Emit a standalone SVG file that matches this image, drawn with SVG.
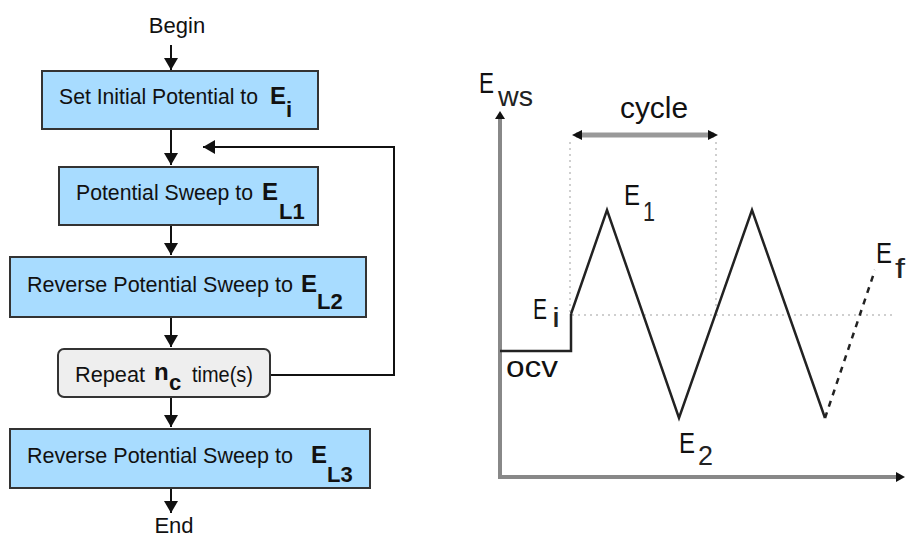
<svg xmlns="http://www.w3.org/2000/svg" width="911" height="540" viewBox="0 0 911 540">
<style>
.box{fill:#a8dcff;stroke:#333;stroke-width:2}
.gbox{fill:#eeeeee;stroke:#333;stroke-width:2}
.t{font-family:"Liberation Sans",Arial,sans-serif;font-size:22px;fill:#111}
.b{font-family:"Liberation Sans",Arial,sans-serif;font-size:24px;font-weight:bold;fill:#111}
.bs{font-family:"Liberation Sans",Arial,sans-serif;font-size:22px;font-weight:bold;fill:#111}
.c{font-family:"Liberation Sans",Arial,sans-serif;font-size:30px;fill:#111}
.cs{font-family:"Liberation Sans",Arial,sans-serif;font-size:28px;fill:#222}
.fl{fill:none;stroke:#111;stroke-width:2}
.wave{fill:none;stroke:#222;stroke-width:2.5}
.dot{fill:none;stroke:#cfcfcf;stroke-width:2;stroke-dasharray:2,4}
.axis{fill:none;stroke:#888;stroke-width:4}
</style>
<defs>
<marker id="ah" markerUnits="userSpaceOnUse" markerWidth="14" markerHeight="16" refX="12" refY="7" orient="auto">
<path d="M0,0 L12,7 L0,14 z" fill="#111"/>
</marker>
</defs>

<g id="connectors">
<line class="fl" x1="171" y1="45" x2="171" y2="70" marker-end="url(#ah)"/>
<line class="fl" x1="171" y1="129" x2="171" y2="165" marker-end="url(#ah)"/>
<line class="fl" x1="171" y1="225" x2="171" y2="255" marker-end="url(#ah)"/>
<line class="fl" x1="171" y1="317" x2="171" y2="347" marker-end="url(#ah)"/>
<line class="fl" x1="171" y1="397" x2="171" y2="427" marker-end="url(#ah)"/>
<line class="fl" x1="171" y1="488" x2="171" y2="513" marker-end="url(#ah)"/>
<path class="fl" d="M270,375 H394 V147 H203" marker-end="url(#ah)"/>
</g>

<g id="begin"><text class="t" x="177" y="33" text-anchor="middle">Begin</text></g>
<g id="end"><text class="t" x="174" y="533" text-anchor="middle">End</text></g>

<g id="set-initial">
<rect class="box" x="42" y="71" width="276" height="58"/>
<text class="t" x="59" y="104" textLength="199" lengthAdjust="spacingAndGlyphs">Set Initial Potential to</text>
<text class="b" x="270" y="104">E</text>
<text class="bs" x="286" y="117">i</text>
</g>

<g id="sweep1">
<rect class="box" x="59" y="167" width="259" height="58"/>
<text class="t" x="76" y="200" textLength="177" lengthAdjust="spacingAndGlyphs">Potential Sweep to</text>
<text class="b" x="262" y="200">E</text>
<text class="bs" x="279" y="219">L<tspan>1</tspan></text>
</g>

<g id="sweep2">
<rect class="box" x="10" y="257" width="356" height="60"/>
<text class="t" x="27" y="292" textLength="266" lengthAdjust="spacingAndGlyphs">Reverse Potential Sweep to</text>
<text class="b" x="301" y="292">E</text>
<text class="bs" x="317" y="309">L<tspan>2</tspan></text>
</g>

<g id="repeat">
<rect class="gbox" x="58" y="349" width="212" height="48" rx="6"/>
<text class="t" x="75" y="382" textLength="70" lengthAdjust="spacingAndGlyphs">Repeat</text>
<text class="b" x="154" y="380">n</text>
<text class="bs" x="169" y="390">c</text>
<text class="t" x="192" y="382" textLength="61" lengthAdjust="spacingAndGlyphs">time(s)</text>
</g>

<g id="sweep3">
<rect class="box" x="10" y="429" width="360" height="59"/>
<text class="t" x="27" y="463" textLength="266" lengthAdjust="spacingAndGlyphs">Reverse Potential Sweep to</text>
<text class="b" x="311" y="463">E</text>
<text class="bs" x="327" y="482">L<tspan>3</tspan></text>
</g>

<g id="chart">
<line class="axis" x1="500" y1="478" x2="500" y2="118"/>
<line class="axis" x1="498" y1="477" x2="898" y2="477"/>
<path d="M495,119 L500,111 L505,119 z" fill="#111"/>
<path d="M896,472 L905,477 L896,482 z" fill="#111"/>
<text class="c" x="479" y="93" textLength="15" lengthAdjust="spacingAndGlyphs">E</text>
<text class="cs" x="498" y="106" textLength="35" lengthAdjust="spacingAndGlyphs">ws</text>

<line class="dot" x1="570" y1="142" x2="570" y2="314"/>
<line class="dot" x1="716" y1="142" x2="716" y2="314"/>
<line class="dot" x1="572" y1="315" x2="893" y2="315"/>

<line x1="576" y1="135" x2="714" y2="135" stroke="#999" stroke-width="5"/>
<path d="M582,130 L572,135 L582,140 z" fill="#111"/>
<path d="M708,130 L718,135 L708,140 z" fill="#111"/>
<text class="c" x="654" y="118" text-anchor="middle" textLength="68" lengthAdjust="spacingAndGlyphs">cycle</text>

<path class="wave" d="M500,351 H571 V314"/>
<path class="wave" d="M571,314 L607,210 L679,418 L752,210 L825,418"/>
<path class="wave" d="M825,418 L875,270" stroke-dasharray="6,6"/>

<text class="c" x="533" y="319" textLength="14" lengthAdjust="spacingAndGlyphs">E</text>
<text class="cs" x="552" y="327" textLength="8" lengthAdjust="spacingAndGlyphs">i</text>
<text class="c" x="506" y="377" textLength="52" lengthAdjust="spacingAndGlyphs">ocv</text>
<text class="c" x="624" y="205" textLength="16" lengthAdjust="spacingAndGlyphs">E</text>
<text class="cs" x="643" y="221" textLength="12" lengthAdjust="spacingAndGlyphs">1</text>
<text class="c" x="679" y="453" textLength="16" lengthAdjust="spacingAndGlyphs">E</text>
<text class="cs" x="698" y="465" textLength="15" lengthAdjust="spacingAndGlyphs">2</text>
<text class="c" x="876" y="263" textLength="16" lengthAdjust="spacingAndGlyphs">E</text>
<text class="cs" x="895" y="278" textLength="10" lengthAdjust="spacingAndGlyphs">f</text>
</g>
</svg>
